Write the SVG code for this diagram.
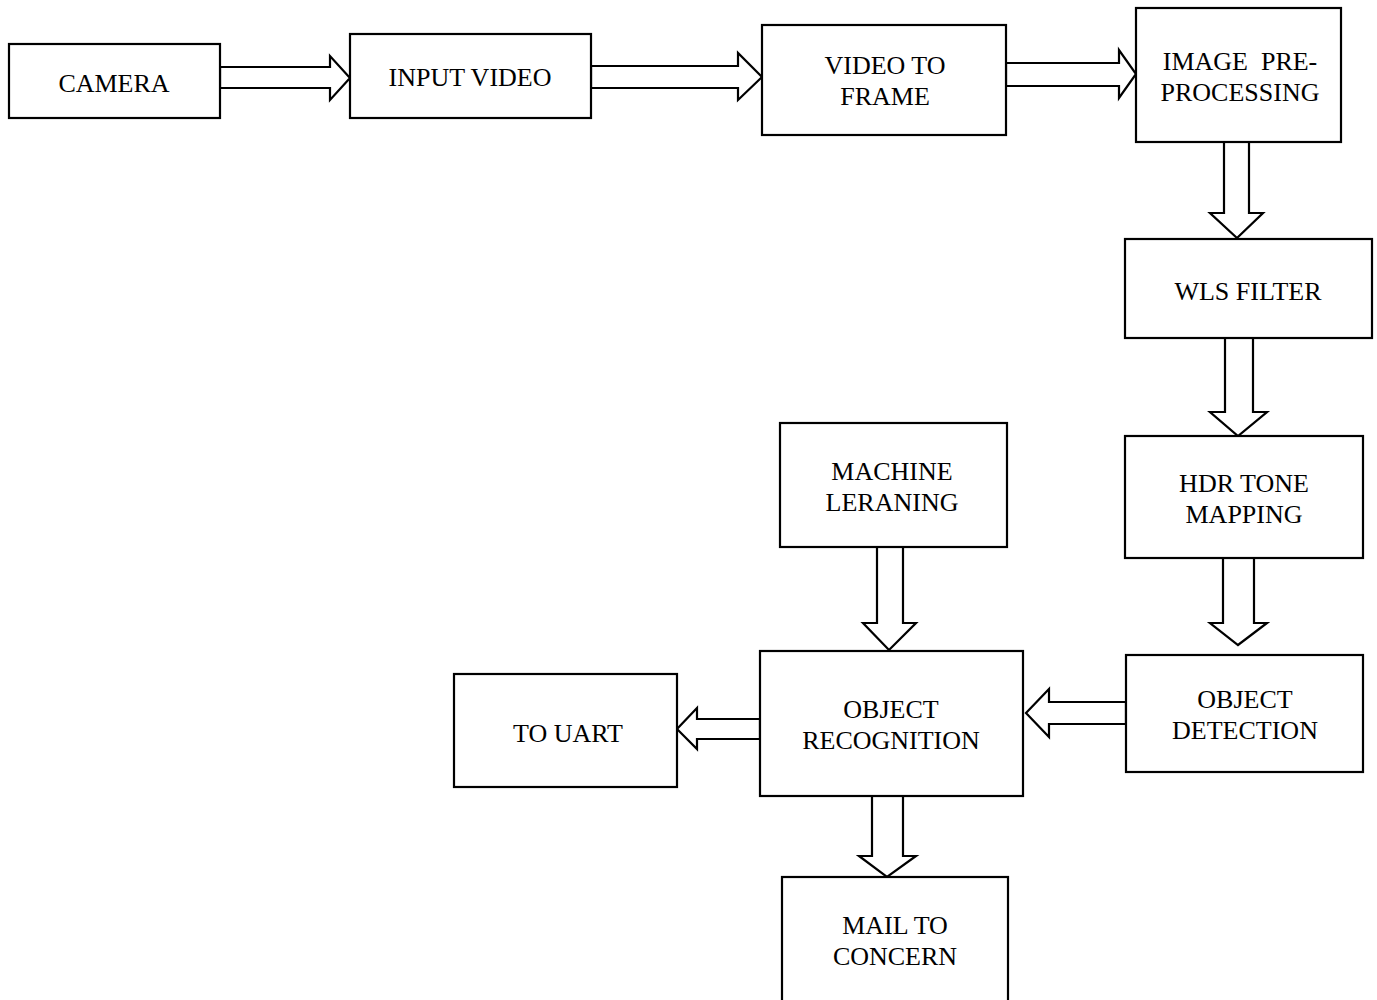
<svg xmlns="http://www.w3.org/2000/svg" width="1377" height="1000" viewBox="0 0 1377 1000">
<style>
.box{fill:#fff;stroke:#000;stroke-width:2.2}
.arr{fill:#fff;stroke:#000;stroke-width:2.2;stroke-linejoin:miter}
text{font-family:"Liberation Serif","Times New Roman",serif;font-size:26px;fill:#000;text-anchor:middle}
</style>
<rect width="1377" height="1000" fill="#fff"/>
<g id="connectors">
<polygon class="arr" points="220,67 330,67 330,56 350,78 330,100 330,88 220,88"/>
<polygon class="arr" points="591,66 738,66 738,53 762,77 738,100 738,88 591,88"/>
<polygon class="arr" points="1006,63 1119,63 1119,50 1136,74 1119,98 1119,86 1006,86"/>
<polygon class="arr" points="1224,142 1249,142 1249,213 1263,213 1237,238 1210,213 1224,213"/>
<polygon class="arr" points="1225,338 1253,338 1253,412 1267,412 1238,436 1210,412 1225,412"/>
<polygon class="arr" points="1223,558 1254,558 1254,623 1267,623 1238,645 1210,623 1223,623"/>
<polygon class="arr" points="1126,702 1049,702 1049,689 1026,713 1049,737 1049,724 1126,724"/>
<polygon class="arr" points="760,719 697,719 697,708 677,729 697,749 697,739 760,739"/>
<polygon class="arr" points="877,547 903,547 903,623 916,623 889,650 863,623 877,623"/>
<polygon class="arr" points="872,796 903,796 903,856 916,856 887,877 859,856 872,856"/>
</g>
<g id="camera"><rect class="box" x="9" y="44" width="211" height="74"/><text x="114" y="92">CAMERA</text></g>
<g id="input-video"><rect class="box" x="350" y="34" width="241" height="84"/><text x="470" y="86">INPUT VIDEO</text></g>
<g id="video-to-frame"><rect class="box" x="762" y="25" width="244" height="110"/><text x="885" y="74">VIDEO TO</text><text x="885" y="105">FRAME</text></g>
<g id="image-preprocessing"><rect class="box" x="1136" y="8" width="205" height="134"/><text x="1240" y="70" xml:space="preserve">IMAGE  PRE-</text><text x="1240" y="101">PROCESSING</text></g>
<g id="wls-filter"><rect class="box" x="1125" y="239" width="247" height="99"/><text x="1248" y="300">WLS FILTER</text></g>
<g id="hdr-tone-mapping"><rect class="box" x="1125" y="436" width="238" height="122"/><text x="1244" y="492">HDR TONE</text><text x="1244" y="523">MAPPING</text></g>
<g id="object-detection"><rect class="box" x="1126" y="655" width="237" height="117"/><text x="1245" y="708">OBJECT</text><text x="1245" y="739">DETECTION</text></g>
<g id="machine-learning"><rect class="box" x="780" y="423" width="227" height="124"/><text x="892" y="480">MACHINE</text><text x="892" y="511">LERANING</text></g>
<g id="object-recognition"><rect class="box" x="760" y="651" width="263" height="145"/><text x="891" y="718">OBJECT</text><text x="891" y="749">RECOGNITION</text></g>
<g id="to-uart"><rect class="box" x="454" y="674" width="223" height="113"/><text x="568" y="742">TO UART</text></g>
<g id="mail-to-concern"><rect class="box" x="782" y="877" width="226" height="130"/><text x="895" y="934">MAIL TO</text><text x="895" y="965">CONCERN</text></g>
</svg>
